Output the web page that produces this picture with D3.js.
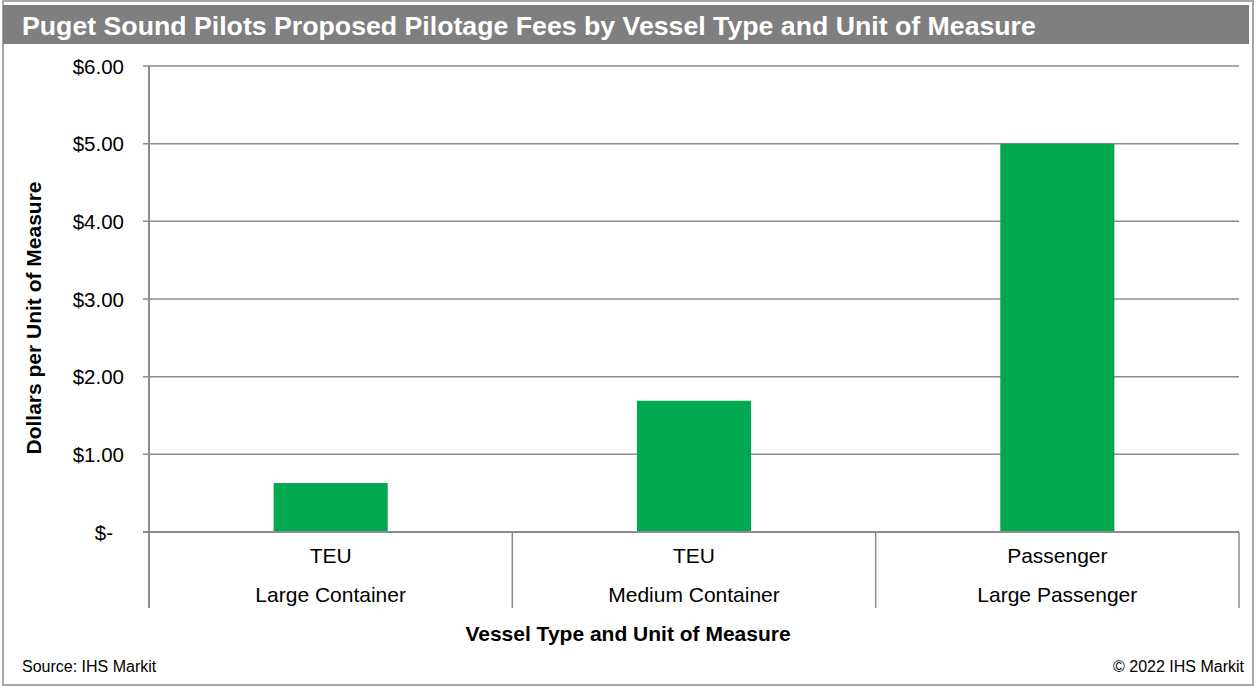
<!DOCTYPE html>
<html>
<head>
<meta charset="utf-8">
<script src="https://cdn.jsdelivr.net/npm/d3@7"></script>
<style>
  body { margin: 0; background: #fff; }
  svg { display: block; font-family: "Liberation Sans", Arial, sans-serif; }
</style>
</head>
<body>
<script>
var width = 1259, height = 687;

// chart data
var units = ["TEU", "TEU", "Passenger"];
var vessels = ["Large Container", "Medium Container", "Large Passenger"];
var fees = [0.63, 1.69, 5.0];
var yTicks = [0, 1, 2, 3, 4, 5, 6];

var svg = d3.select("body").append("svg")
  .attr("width", width)
  .attr("height", height);

// frame + title bar
svg.append("rect")
  .attr("x", 3).attr("y", 1)
  .attr("width", 1250).attr("height", 684)
  .attr("fill", "none").attr("stroke", "#a6a6a6").attr("stroke-width", 2);

svg.append("rect")
  .attr("x", 3).attr("y", 5)
  .attr("width", 1246).attr("height", 39)
  .attr("fill", "#7f7f7f");

svg.append("text")
  .attr("x", 22).attr("y", 35)
  .attr("fill", "#fff")
  .style("font-size", "26.7px")
  .style("font-weight", "bold")
  .text("Puget Sound Pilots Proposed Pilotage Fees by Vessel Type and Unit of Measure");

var x0 = 149, x1 = 1239, yTop = 66, yBase = 532;

var x = d3.scaleBand()
  .domain(d3.range(fees.length))
  .range([x0, x1])
  .paddingInner(0.686)
  .paddingOuter(0.343);

var y = d3.scaleLinear()
  .domain([0, 6])
  .range([yBase, yTop]);

var g = svg.append("g");

// gridlines
g.selectAll(".grid")
  .data(yTicks.slice(1))
  .enter().append("line")
  .attr("class", "grid")
  .attr("x1", x0 - 6).attr("x2", x1)
  .attr("y1", d => y(d)).attr("y2", d => y(d))
  .attr("stroke", "#8c8c8c").attr("stroke-width", 1.5);

// bars
g.selectAll(".bar")
  .data(fees)
  .enter().append("rect")
  .attr("class", "bar")
  .attr("x", (d, i) => x(i))
  .attr("width", x.bandwidth())
  .attr("y", d => y(d))
  .attr("height", d => yBase - y(d))
  .attr("fill", "#00a94f");

// y axis
var yAxis = d3.axisLeft(y)
  .tickValues(yTicks)
  .tickSize(0)
  .tickPadding(25)
  .tickFormat(d => d === 0 ? "$-" : "$" + d.toFixed(2));

var ya = g.append("g")
  .attr("transform", "translate(" + x0 + ",0)")
  .call(yAxis);
ya.select(".domain").remove();
ya.selectAll("text")
  .style("font-size", "20.5px")
  .style("font-family", "'Liberation Sans', Arial, sans-serif")
  .attr("fill", "#000")
  .attr("dy", "0.35em");
ya.selectAll(".tick").filter(d => d === 0).select("text")
  .attr("x", -36);

// axis lines
g.append("line")
  .attr("x1", x0).attr("x2", x0)
  .attr("y1", yTop).attr("y2", 608)
  .attr("stroke", "#8c8c8c").attr("stroke-width", 2);

g.append("line")
  .attr("x1", x0 - 6).attr("x2", x1)
  .attr("y1", yBase).attr("y2", yBase)
  .attr("stroke", "#8c8c8c").attr("stroke-width", 2);

// category separators
var seps = d3.range(1, fees.length + 1).map(i => i === fees.length ? x1 : x(i) - x.step() * x.paddingOuter());
g.selectAll(".sep")
  .data(seps)
  .enter().append("line")
  .attr("class", "sep")
  .attr("x1", d => d).attr("x2", d => d)
  .attr("y1", yBase).attr("y2", 608)
  .attr("stroke", "#8c8c8c").attr("stroke-width", 1.5);

// category labels
var cx = (d, i) => x(i) + x.bandwidth() / 2;
g.selectAll(".unit")
  .data(units)
  .enter().append("text")
  .attr("x", cx).attr("y", 563)
  .attr("text-anchor", "middle")
  .style("font-size", "21px")
  .text(d => d);

g.selectAll(".vessel")
  .data(vessels)
  .enter().append("text")
  .attr("x", cx).attr("y", 602)
  .attr("text-anchor", "middle")
  .style("font-size", "21px")
  .text(d => d);

// axis titles
svg.append("text")
  .attr("transform", "translate(41,318) rotate(-90)")
  .attr("text-anchor", "middle")
  .style("font-size", "21px")
  .style("font-weight", "bold")
  .text("Dollars per Unit of Measure");

svg.append("text")
  .attr("x", 628).attr("y", 641)
  .attr("text-anchor", "middle")
  .style("font-size", "21px")
  .style("font-weight", "bold")
  .text("Vessel Type and Unit of Measure");

// footer
svg.append("text")
  .attr("x", 22).attr("y", 672)
  .style("font-size", "16px")
  .text("Source: IHS Markit");

svg.append("text")
  .attr("x", 1244).attr("y", 672)
  .attr("text-anchor", "end")
  .style("font-size", "16px")
  .text("\u00a9 2022 IHS Markit");
</script>
</body>
</html>
